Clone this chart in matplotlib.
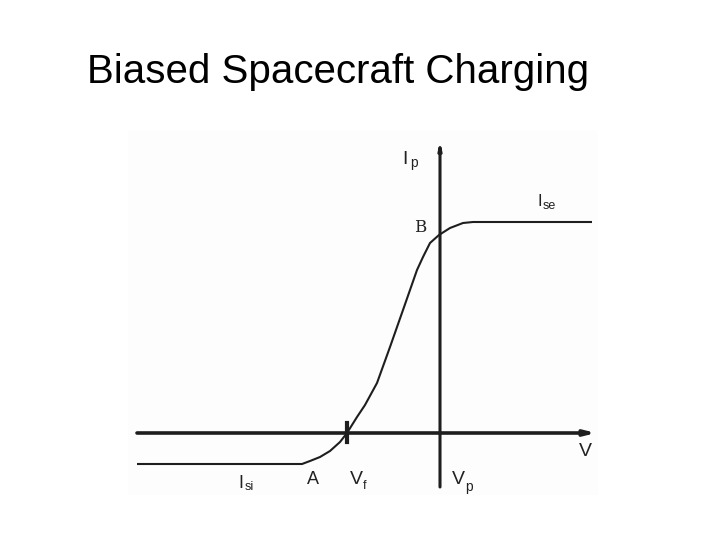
import matplotlib.pyplot as plt
import numpy as np

# probe I-V curve (arbitrary units, Vp at 0)
V = [-3.03, -1.38, -1.30, -1.20, -1.10, -1.00, -0.93, -0.83, -0.75, -0.63,
     -0.50, -0.37, -0.23, -0.17, -0.10, -0.01, 0.10, 0.23, 0.33, 1.52]
I = [-0.31, -0.31, -0.28, -0.24, -0.18, -0.09, 0.0, 0.16, 0.28, 0.50,
     0.86, 1.23, 1.63, 1.76, 1.90, 1.98, 2.05, 2.10, 2.11, 2.11]

V_f = -0.93
v_range = (-3.03, 1.52)
i_range = (-0.54, 2.93)

ink = '#1e1e1e'

fig = plt.figure(figsize=(7.2, 5.4), dpi=100)
fig.text(0.469, 0.867, 'Biased Spacecraft Charging', ha='center', va='center',
         fontsize=29, family='Liberation Sans', color='black')

ax = fig.add_axes([128/720, 45/540, 470/720, 365/540])
ax.set_xlim(-3.12, 1.58)
ax.set_ylim(-0.62, 3.03)
ax.set_facecolor('#fdfdfd')
for s in ax.spines.values():
    s.set_visible(False)
ax.set_xticks([])
ax.set_yticks([])

# axes of the diagram
ax.annotate('', xy=(v_range[1] + 0.04, 0), xytext=(v_range[0], 0),
            arrowprops=dict(arrowstyle='-|>,head_length=0.6,head_width=0.15',
                            lw=2.6, color=ink, shrinkA=0, shrinkB=0))
ax.annotate('', xy=(0, i_range[1]), xytext=(0, i_range[0]),
            arrowprops=dict(arrowstyle='-|>,head_length=0.4,head_width=0.08',
                            lw=2.2, color=ink, shrinkA=0, shrinkB=0))

# characteristic
ax.plot(V, I, color=ink, lw=1.5, solid_capstyle='butt')
ax.plot([V_f, V_f], [-0.09, 0.10], color=ink, lw=3)

lab = dict(color='#222222', family='Liberation Sans', ha='center', va='center')
sub = dict(color='#222222', family='Liberation Sans', ha='left', va='center')

ax.text(-0.35, 2.73, 'I', fontsize=14, **lab)
ax.text(-0.30, 2.70, 'p', fontsize=10, **sub)
ax.text(1.00, 2.31, 'I', fontsize=12, **lab)
ax.text(1.03, 2.27, 'se', fontsize=9, **sub)
ax.text(-0.20, 2.06, 'B', fontsize=12, color='#222222', family='DejaVu Serif',
        ha='center', va='center')
ax.text(1.45, -0.19, 'V', fontsize=14, **lab)
ax.text(-1.99, -0.50, 'I', fontsize=13, **lab)
ax.text(-1.95, -0.54, 'si', fontsize=9, **sub)
ax.text(-1.27, -0.47, 'A', fontsize=13, **lab)
ax.text(-0.84, -0.47, 'V', fontsize=14, **lab)
ax.text(-0.77, -0.53, 'f', fontsize=9, **sub)
ax.text(0.18, -0.47, 'V', fontsize=14, **lab)
ax.text(0.25, -0.54, 'p', fontsize=10, **sub)

fig.savefig('out.png', dpi=100)
